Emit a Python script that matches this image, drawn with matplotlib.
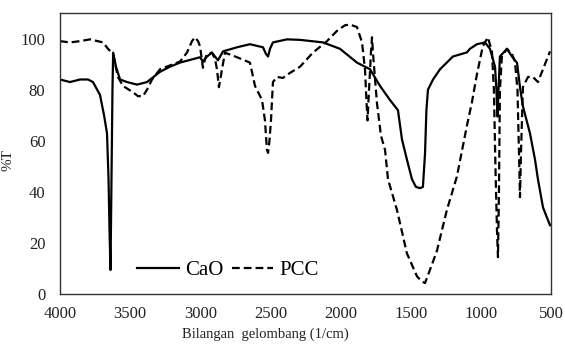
import matplotlib
matplotlib.use("Agg")
import matplotlib.pyplot as plt

# CaO spectrum (wavenumber 1/cm, %T)
cao_wn = [4000, 3929, 3857, 3800, 3765, 3715, 3686, 3665, 3654, 3647, 3640, 3634, 3626, 3621,
          3601, 3572, 3522, 3451, 3380, 3287, 3216, 3145, 3002, 2981, 2952, 2917, 2874, 2838,
          2738, 2646, 2553, 2532, 2517, 2503, 2482, 2382, 2289, 2125, 2004, 1883, 1790, 1719,
          1648, 1591, 1562, 1527, 1491, 1463, 1434, 1413, 1398, 1388, 1377, 1341, 1291, 1199,
          1099, 1078, 1028, 971, 935, 899, 889, 881, 874, 864, 814, 778, 742, 721, 700, 650,
          614, 593, 557, 536, 507]
cao_t = [84, 83, 84, 84, 83, 78, 70, 63, 45, 25, 9.5, 40, 80, 94.5,
         89, 84, 83, 82, 83, 87, 89, 90.6, 92.7, 91, 93, 94.5, 91.5, 95,
         96.6, 97.8, 96.6, 94, 93, 96, 98.5, 99.7, 99.5, 98.5, 96, 90.6, 88, 81.5,
         76, 72, 60.5, 52.7, 45, 42, 41.5, 42, 55, 72, 80, 84, 88, 93,
         94.6, 96, 97.8, 98.5, 96, 89, 80, 69.5, 80, 93, 96, 93, 90.5, 81, 73.5, 63,
         52.7, 45, 34, 31, 27]

# PCC spectrum (wavenumber 1/cm, %T)
pcc_wn = [4000, 3929, 3857, 3786, 3693, 3658, 3622, 3587, 3551, 3480, 3444, 3408, 3380, 3344,
          3287, 3216, 3145, 3095, 3059, 3038, 3016, 3002, 2981, 2966, 2952, 2917, 2895, 2881,
          2867, 2845, 2824, 2738, 2646, 2610, 2560, 2539, 2525, 2517, 2507, 2496, 2482, 2453,
          2411, 2360, 2289, 2197, 2097, 2026, 1969, 1933, 1883, 1847, 1826, 1815, 1808, 1797,
          1783, 1776, 1767, 1741, 1712, 1683, 1662, 1598, 1527, 1455, 1420, 1398, 1363, 1313,
          1242, 1171, 1099, 1064, 1028, 986, 950, 921, 907, 896, 885, 878, 871, 864, 850, 814,
          778, 757, 739, 728, 721, 714, 700, 664, 629, 593, 557, 507]
pcc_t = [99, 98.5, 99, 99.7, 98.5, 96, 94, 85, 81.5, 79, 77.5, 77.5, 80, 84,
         88, 89.5, 91, 94.5, 99, 100.5, 99, 97, 88.6, 92, 94, 94.5, 92, 88,
         81, 88, 94.5, 92.7, 90.6, 81.5, 76, 68, 56.5, 55.3, 60, 68, 83, 85,
         84.6, 86.6, 89, 94.5, 99, 103, 105.2, 105.5, 104.5, 98.5, 88, 75, 68, 80,
         95, 100.5, 93, 75, 62, 56.5, 45, 33, 16, 7, 5, 4.4, 9.5, 17,
         33, 46, 66, 75, 86, 97, 100.5, 95, 80, 50, 25, 14.5, 40, 80, 93, 96,
         94, 91, 80, 55, 38, 55, 81, 85, 85, 83, 88, 95]

x_ticks = [4000, 3500, 3000, 2500, 2000, 1500, 1000, 500]
y_ticks = [0, 20, 40, 60, 80, 100]

plt.rcParams['font.family'] = ['Liberation Serif', 'DejaVu Serif']

fig = plt.figure(figsize=(5.65, 3.47), dpi=100)
ax = fig.add_axes([0.1062, 0.1519, 0.869, 0.8106])

ax.plot(cao_wn, cao_t, color='black', lw=1.6, label='CaO')
ax.plot(pcc_wn, pcc_t, color='black', lw=1.6, ls=(0, (3.5, 1.8)), label='PCC')

ax.set_xlim(4000, 500)
ax.set_ylim(0, 110)
ax.set_xticks(x_ticks)
ax.set_xticklabels([str(v) for v in x_ticks])
ax.set_yticks(y_ticks)
ax.set_yticklabels([str(v) for v in y_ticks])
ax.tick_params(length=0, labelsize=12, colors='#222222')
ax.tick_params(axis='x', pad=8.5)
ax.tick_params(axis='y', pad=10.5)

for s in ax.spines.values():
    s.set_color('#333333')
    s.set_linewidth(1.0)

ax.set_xlabel('Bilangan  gelombang (1/cm)', fontsize=10.5, color='#222222')
ax.xaxis.set_label_coords(0.4175, -0.118)
ax.set_ylabel('%T', fontsize=11, color='#222222')
ax.yaxis.set_label_coords(-0.092, 0.477)

leg = ax.legend(loc='center', bbox_to_anchor=(0.342, 0.086), ncol=2, frameon=False,
                fontsize=15, handlelength=2.0, handletextpad=0.3, columnspacing=0.4,
                borderpad=0.0)

fig.savefig('out.png', dpi=100)
